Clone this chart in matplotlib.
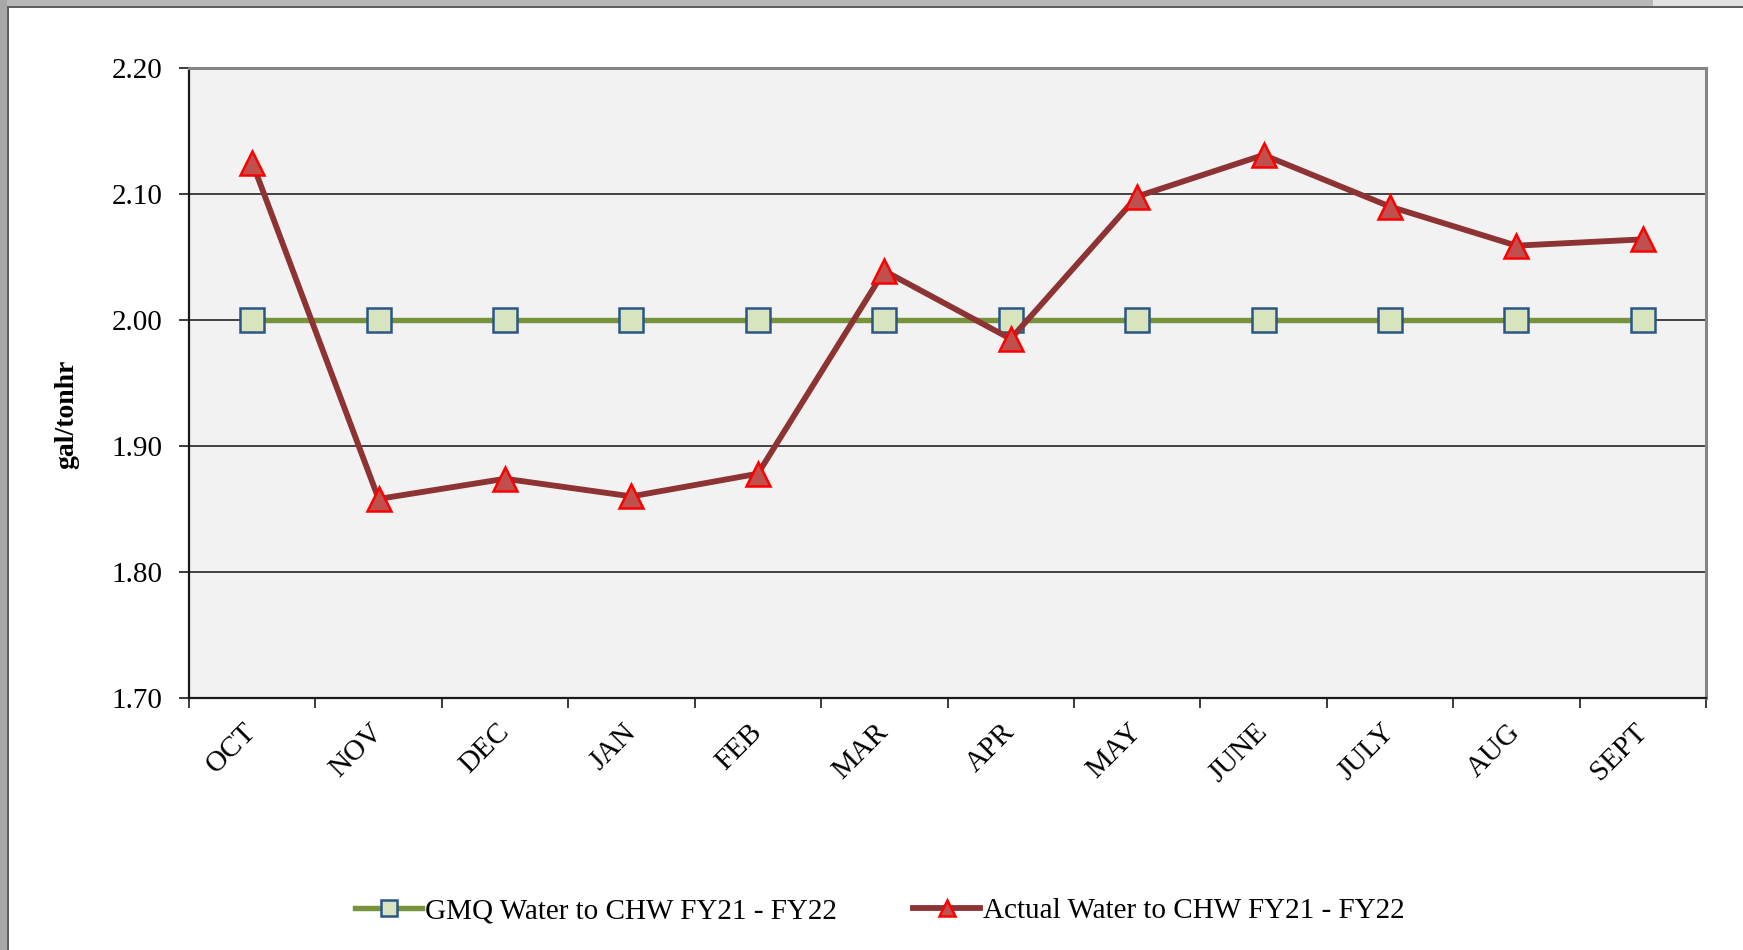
import matplotlib
matplotlib.use("Agg")
import matplotlib.pyplot as plt
from matplotlib.patches import Rectangle
from matplotlib.transforms import ScaledTranslation
import numpy as np

months = ["OCT", "NOV", "DEC", "JAN", "FEB", "MAR", "APR", "MAY", "JUNE", "JULY", "AUG", "SEPT"]
gmq = [2.00, 2.00, 2.00, 2.00, 2.00, 2.00, 2.00, 2.00, 2.00, 2.00, 2.00, 2.00]
actual = [2.125, 1.858, 1.874, 1.860, 1.878, 2.039, 1.985, 2.098, 2.131, 2.090, 2.059, 2.064]
yticks = [1.70, 1.80, 1.90, 2.00, 2.10, 2.20]
gmq_label = "GMQ Water to CHW FY21 - FY22"
actual_label = "Actual Water to CHW FY21 - FY22"
ylabel = "gal/tonhr"

W, H = 1743, 950
DPI = 100
FS = 21
plt.rcParams['font.family'] = ['Liberation Serif', 'DejaVu Serif']
fig = plt.figure(figsize=(W / DPI, H / DPI), dpi=DPI)
fig.patch.set_facecolor('white')

def px(x0, y0, x1, y1):
    return [x0 / W, 1 - y1 / H, (x1 - x0) / W, (y1 - y0) / H]

# screenshot border
fig.patches.append(Rectangle((0, 1 - 6 / H), 1, 6 / H, transform=fig.transFigure,
                             facecolor='#b8b8b8', edgecolor='none', zorder=0))
fig.patches.append(Rectangle((1653 / W, 1 - 6 / H), (W - 1653) / W, 6 / H, transform=fig.transFigure,
                             facecolor='#e2e2e2', edgecolor='none', zorder=0))
fig.patches.append(Rectangle((0, 1 - 8 / H), 1, 2 / H, transform=fig.transFigure,
                             facecolor='#606060', edgecolor='none', zorder=0))
fig.patches.append(Rectangle((0, 0), 7 / W, 1, transform=fig.transFigure,
                             facecolor='#a8a8a8', edgecolor='none', zorder=0))
fig.patches.append(Rectangle((7 / W, 0), 2 / W, 1 - 6 / H, transform=fig.transFigure,
                             facecolor='#606060', edgecolor='none', zorder=0))

ax = fig.add_axes(px(189, 68, 1706, 698))
ax.set_facecolor('#F2F2F2')
x = np.arange(len(months))

ax.plot(x, gmq, color='#77933C', lw=3.9, marker='s', ms=17.5, mfc='#D7E4BD',
        mec='#2B5586', mew=1.8, zorder=3, label=gmq_label)
ax.plot(x, actual, color='#8E3333', lw=4.2, marker='^', ms=17, mfc='#C0504D',
        mec='#FF0000', mew=1.8, zorder=4, label=actual_label)

ax.set_xlim(-0.5, len(months) - 0.5)
ax.set_ylim(yticks[0], yticks[-1])
ax.set_yticks(yticks)
ax.set_yticklabels([f"{v:.2f}" for v in yticks])
ax.yaxis.grid(True, color='#111111', lw=1.1, zorder=1)
ax.set_axisbelow(True)

ax.set_xticks(x)
ax.set_xticklabels(months, rotation=45, ha='right', va='top', rotation_mode='anchor')
ax.set_xticks(np.arange(len(months) + 1) - 0.5, minor=True)
ax.tick_params(axis='x', which='major', length=0, pad=15, labelsize=FS)
ax.tick_params(axis='x', which='minor', length=7, width=1.2, color='#1a1a1a')
ax.tick_params(axis='y', which='major', length=7, width=1.2, color='#1a1a1a', pad=12, labelsize=FS)
shift = ScaledTranslation(-9 / DPI, 0, fig.dpi_scale_trans)
for lab in ax.get_xticklabels():
    lab.set_transform(lab.get_transform() + shift)

for s in ['left', 'bottom']:
    ax.spines[s].set_color('#1a1a1a')
    ax.spines[s].set_linewidth(1.6)
for s in ['top', 'right']:
    ax.spines[s].set_color('#858585')
    ax.spines[s].set_linewidth(2.2)

fig.text(67 / W, 1 - 414 / H, ylabel, rotation=90, ha='center', va='center',
         fontsize=20, fontweight='bold')

fig.legend(loc='center', bbox_to_anchor=(880 / W, 1 - 911 / H), ncol=2, frameon=False,
           fontsize=FS, handlelength=2.3, handletextpad=0.1, columnspacing=2.6,
           numpoints=1, markerscale=0.65)

fig.savefig('out.png', dpi=DPI)
